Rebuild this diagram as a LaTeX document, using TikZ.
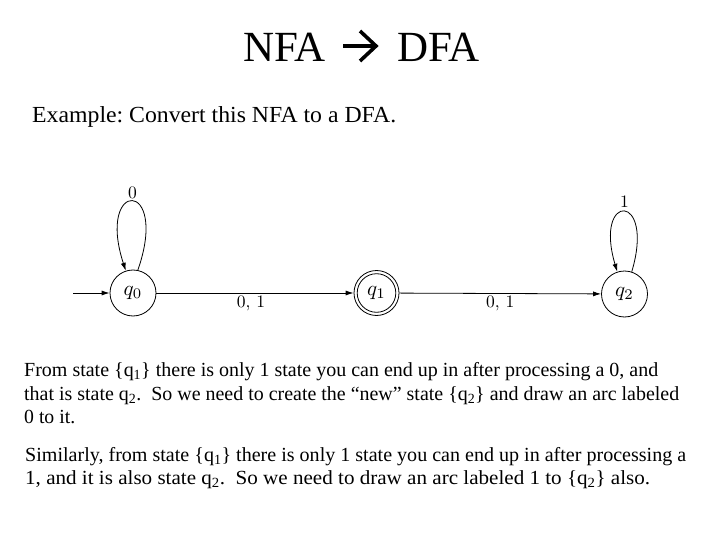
\documentclass[tikz,border=0pt]{standalone}
\usepackage{fontspec}
\setmainfont{Liberation Serif}
\newfontfamily\lmfont{Latin Modern Roman}
\usepackage{graphicx}
\usetikzlibrary{arrows.meta}
\frenchspacing
\newcommand{\lbltext}[1]{\scalebox{1.75}{\lmfont\fontsize{10}{12}\selectfont #1}}
\begin{document}
\begin{tikzpicture}[x=1pt,y=-1pt,
  state/.style={draw,circle,minimum size=46pt,inner sep=0pt,line width=0.8pt},
  edge/.style={line width=0.8pt,-{Latex[length=8pt,width=5pt]}},
  elabel/.style={inner sep=2pt},
  titletext/.style={anchor=base west,inner sep=0pt,font=\fontsize{43}{50}\selectfont},
  body/.style={anchor=base west,inner sep=0pt,font=\fontsize{20}{24}\selectfont},
  tarrow/.style={line width=3.6pt}]
\useasboundingbox[fill=white] (0,0) rectangle (720,540);

% title
\node[titletext] (t1) at (243,62) {NFA};
\node[titletext] (t2) at (397,62) {DFA};
\coordinate (a1) at (343,46);
\coordinate (a2) at (376,46);
\coordinate (a3) at (360,31);
\coordinate (a4) at (360,61);
\draw[tarrow] (a1) -- (a2);
\draw[tarrow,line join=miter] (a3) -- (a2) -- (a4);

\node[anchor=base west,inner sep=0pt,font=\fontsize{23}{27}\selectfont] (ex) at (32,123)
  {\resizebox{364pt}{\height}{Example: Convert this NFA to a DFA.}};

% automaton
\node[state] (q0) at (133,293) {\scalebox{2.1}{$q_0$}};
\node[state,minimum size=45pt] (q1) at (376.5,293) {\scalebox{2.1}{$q_1$}};
\draw[line width=0.8pt] (q1.center) circle[radius=19.3pt];
\node[state] (q2) at (624.5,294) {\scalebox{2.1}{$q_2$}};
\coordinate (s) at (73,293);

\draw[edge] (s) -- (q0);
\draw[edge] (q0) -- node[elabel,below=0pt,pos=0.48] (l1) {\lbltext{0, 1}} (q1);
\draw[edge] (q1) -- node[elabel,below=0pt,pos=0.5] (l2) {\lbltext{0, 1}} (q2);
\draw[edge] (q0.78) .. controls +(32,-92) and +(-30,-92) .. node[elabel,above=0pt,pos=0.5] (l0) {\lbltext{0}} (q0.108);
\draw[edge] (q2.72) .. controls +(24,-80) and +(-24,-80) .. node[elabel,above=2pt,pos=0.5] (l3) {\lbltext{1}} (q2.108);

% text
\node[body] (p1a) at (24,376) {\resizebox{634pt}{\height}{From state \{q\textsubscript{1}\} there is only 1 state you can end up in after processing a 0, and}};
\node[body] (p1b) at (24,400) {\resizebox{655pt}{\height}{that is state q\textsubscript{2}.\enskip So we need to create the “new” state \{q\textsubscript{2}\} and draw an arc labeled}};
\node[body] (p1c) at (24,423) {\resizebox{51pt}{\height}{0 to it.}};
\node[body] (p2a) at (25,461) {\resizebox{661pt}{\height}{Similarly, from state \{q\textsubscript{1}\} there is only 1 state you can end up in after processing a}};
\node[body] (p2b) at (25,484) {\resizebox{625pt}{\height}{1, and it is also state q\textsubscript{2}.\enskip So we need to draw an arc labeled 1 to \{q\textsubscript{2}\} also.}};
\end{tikzpicture}
\end{document}
